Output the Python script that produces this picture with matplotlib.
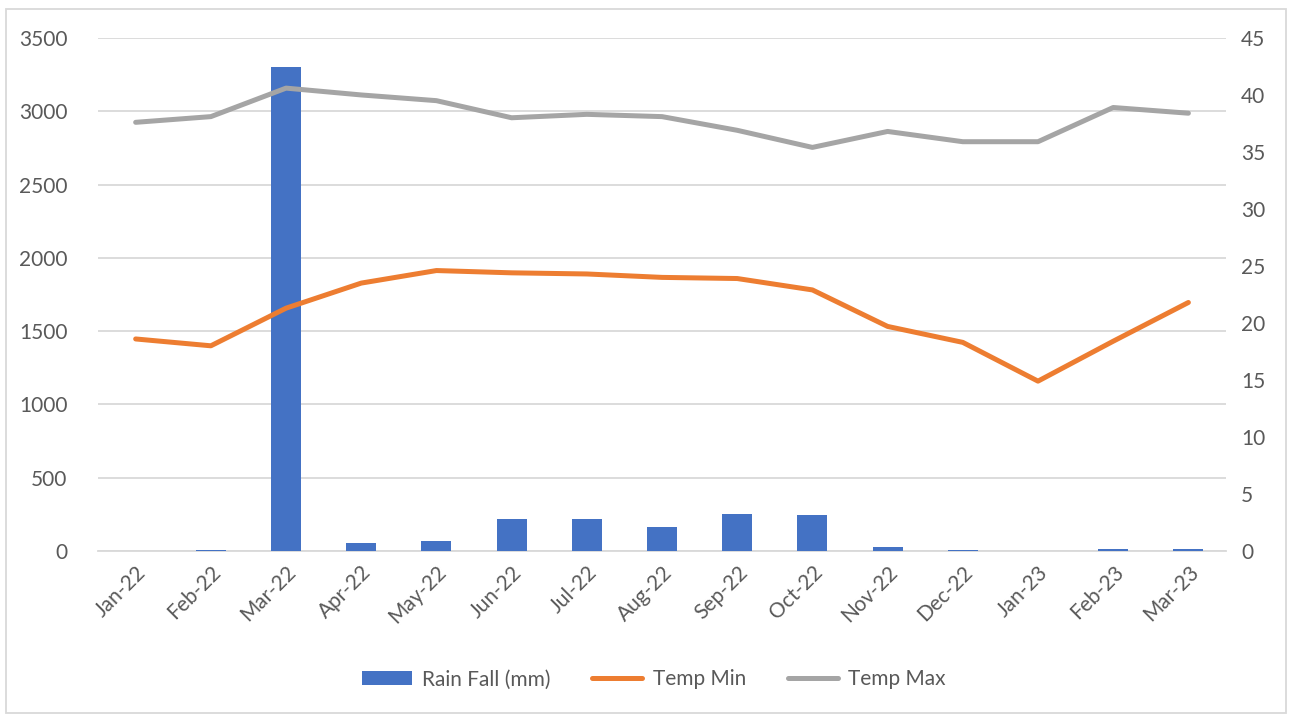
import matplotlib.pyplot as plt
from matplotlib.patches import Rectangle
import numpy as np

plt.rcParams['font.family'] = ['Lato', 'DejaVu Sans']

months = ['Jan-22', 'Feb-22', 'Mar-22', 'Apr-22', 'May-22', 'Jun-22', 'Jul-22', 'Aug-22',
          'Sep-22', 'Oct-22', 'Nov-22', 'Dec-22', 'Jan-23', 'Feb-23', 'Mar-23']
rain = [0, 5, 3300, 55, 66, 216, 216, 164, 250, 244, 25, 8, 0, 12, 15]
temp_min = [18.6, 18.0, 21.3, 23.5, 24.6, 24.4, 24.3, 24.0, 23.9, 22.9, 19.7, 18.3, 14.9, 18.4, 21.8]
temp_max = [37.6, 38.1, 40.6, 40.0, 39.5, 38.0, 38.3, 38.1, 36.9, 35.4, 36.8, 35.9, 35.9, 38.9, 38.4]

blue = '#4472C4'
orange = '#ED7D31'
gray = '#A5A5A5'
txt = '#595959'
grid = '#D9D9D9'

fig = plt.figure(figsize=(12.92, 7.16), dpi=100)
ax = fig.add_axes([0.0759, 0.2304, 0.873, 0.7166])
ax2 = ax.twinx()

x = np.arange(len(months))
b = ax.bar(x, rain, width=0.4, color=blue, zorder=3, label='Rain Fall (mm)')
l1, = ax2.plot(x, temp_min, color=orange, lw=3.6, solid_capstyle='round', label='Temp Min')
l2, = ax2.plot(x, temp_max, color=gray, lw=3.6, solid_capstyle='round', label='Temp Max')

ax.set_xlim(-0.5, len(months) - 0.5)
ax.set_ylim(0, 3500)
ax.set_yticks(np.arange(0, 3501, 500))
ax2.set_ylim(0, 45)
ax2.set_yticks(np.arange(0, 46, 5))

ax.yaxis.grid(True, color=grid, lw=1.3, zorder=0)
ax.set_axisbelow(True)
for a in (ax, ax2):
    for s in a.spines.values():
        s.set_visible(False)
    a.tick_params(length=0, labelsize=15, labelcolor=txt)
ax.spines['bottom'].set_visible(True)
ax.spines['bottom'].set_color(grid)
ax.spines['bottom'].set_linewidth(1.3)
ax.tick_params(axis='y', pad=22)
ax2.tick_params(axis='y', pad=11)

ax.set_xticks(x)
ax.set_xticklabels(months, rotation=45, ha='right', rotation_mode='anchor')
ax.tick_params(axis='x', pad=8)

fig.legend([b, l1, l2], ['Rain Fall (mm)', 'Temp Min', 'Temp Max'],
           loc='center', bbox_to_anchor=(0.506, 0.051), ncol=3, frameon=False,
           fontsize=15, labelcolor=txt, handlelength=2.4, handletextpad=0.5,
           columnspacing=2.0)

fig.patches.append(Rectangle((0.005, 0.004), 0.99, 0.984, transform=fig.transFigure,
                             fill=False, edgecolor=grid, lw=1.3))

fig.savefig('out.png', dpi=100)
